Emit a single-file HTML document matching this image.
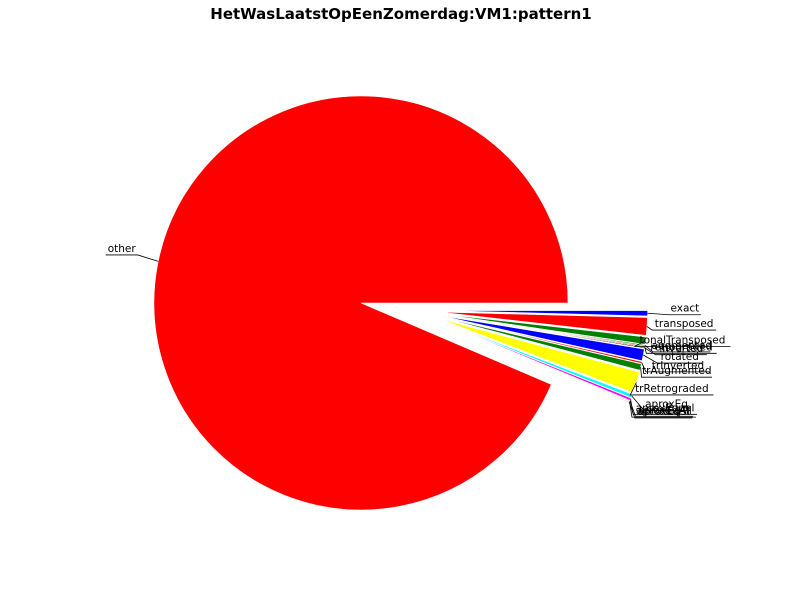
<!DOCTYPE html>
<html><head><meta charset="utf-8"><style>
body{margin:0;background:#fff;}
svg{display:block;font-family:"DejaVu Sans","Liberation Sans",sans-serif;}
</style></head><body>
<svg id="chart" width="800" height="600" viewBox="0 0 800 600">
<rect width="800" height="600" fill="#fff"/>
<text x="401" y="19" text-anchor="middle" font-size="15" font-weight="bold">HetWasLaatstOpEenZomerdag:VM1:pattern1</text>
<g id="slices"></g>
<g id="labels"></g>
</svg>
<script>
const categories = ["other","aproxEqSl","aproxEqAll","aproxEqTr","aproxEqual","aproxEq","trRetrograded","trAugmented","trInverted","rotated","inverted","retrograded","augmented","tonalTransposed","transposed","exact"];
const values = [338.7,0.2,0.2,0.2,0.7,1.0,6.0,1.8,0.5,3.3,0.3,0.3,0.3,2.0,5.0,1.5];
const colors = ["#ff0000","#000000","#ffffff","#008000","#ff00ff","#00ffff","#ffff00","#008000","#ff0000","#0000ff","#000000","#ff0000","#008000","#008000","#ff0000","#0000ff"];
const explode = [0,80,80,80,80,80,80,80,80,80,80,80,80,80,80,80];
const cx=361, cy=303, R=207;
const total = values.reduce((a,b)=>a+b,0);
const NS="http://www.w3.org/2000/svg";
const gs=document.getElementById('slices'), gl=document.getElementById('labels');
let a0=0;
function pt(x,y,r,ang){return [x+r*Math.cos(ang), y-r*Math.sin(ang)];}
values.forEach((v,i)=>{
  const a1=a0+v/total*2*Math.PI;
  const mid=(a0+a1)/2;
  const mids = mid>Math.PI ? mid-2*Math.PI : mid;
  const dir = explode[i] ? 0.35*mids-0.09 : mids;
  const ox=cx+explode[i]*Math.cos(dir), oy=cy-explode[i]*Math.sin(dir);
  const p0=pt(ox,oy,R,a0), p1=pt(ox,oy,R,a1);
  const large=(a1-a0)>Math.PI?1:0;
  const path=document.createElementNS(NS,'path');
  path.setAttribute('d',`M${ox},${oy} L${p0[0]},${p0[1]} A${R},${R} 0 ${large} 0 ${p1[0]},${p1[1]} Z`);
  path.setAttribute('fill',colors[i]);
  path.setAttribute('stroke','#fff');
  path.setAttribute('stroke-width','0.6');
  
  
  gs.appendChild(path);
  const e=pt(ox,oy,R*1.0,mid), l=pt(ox,oy,R*1.18,mid);
  const right=Math.cos(mid)>0;
  const t=document.createElementNS(NS,'text');
  t.setAttribute('x',l[0]);t.setAttribute('y',l[1]-2);
  t.setAttribute('text-anchor','middle');t.setAttribute('font-size','10.5');
  t.textContent=categories[i];
  
  
  gl.appendChild(t);
  const w=categories[i].length*6.4;
  const ux0=l[0]-w/2, ux1=l[0]+w/2, uy=l[1]+1;
  const pl=document.createElementNS(NS,'polyline');
  const pts = right ? `${e[0]},${e[1]} ${ux0},${uy} ${ux1},${uy}` : `${e[0]},${e[1]} ${ux1},${uy} ${ux0},${uy}`;
  pl.setAttribute('points',pts);
  pl.setAttribute('fill','none');pl.setAttribute('stroke','#000');pl.setAttribute('stroke-width','0.8');
  
  
  gl.appendChild(pl);
  a0=a1;
});
</script>
</body></html>
